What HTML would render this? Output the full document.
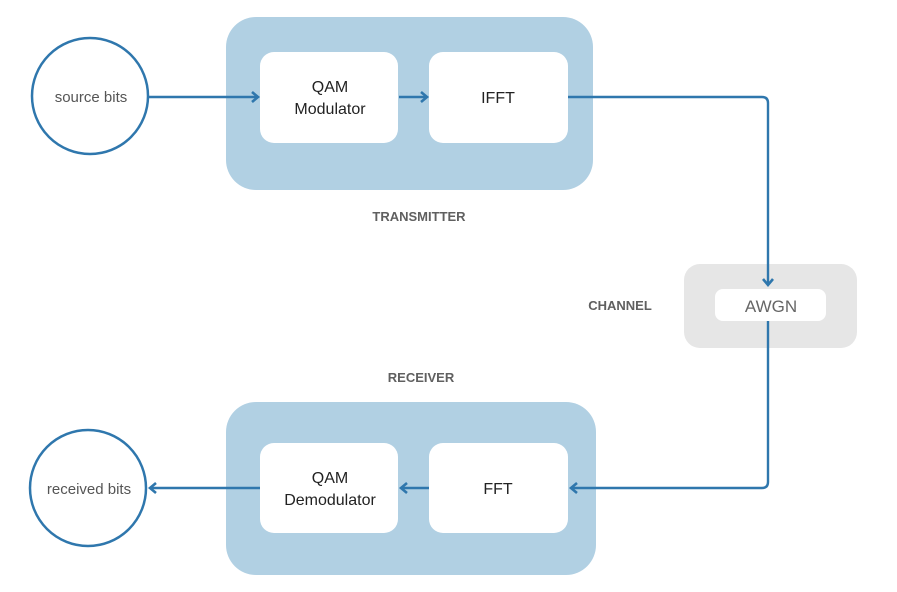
<!DOCTYPE html>
<html><head><meta charset="utf-8"><style>
html,body{margin:0;padding:0;background:#fff;}
svg text{font-family:"Liberation Sans",sans-serif;}
</style></head><body>
<svg width="897" height="587" viewBox="0 0 897 587" xmlns="http://www.w3.org/2000/svg">
<defs>
<marker id="a" markerWidth="12" markerHeight="14" refX="9" refY="7" orient="auto" markerUnits="userSpaceOnUse">
<path d="M3,2 L9,7 L3,12" fill="none" stroke="#2f77ad" stroke-width="2.6"/>
</marker>
</defs>
<rect x="226" y="17" width="367" height="173" rx="30" fill="#b1d0e3"/>
<rect x="260" y="52" width="138" height="91" rx="14" fill="#fff"/>
<rect x="429" y="52" width="139" height="91" rx="14" fill="#fff"/>
<rect x="226" y="402" width="370" height="173" rx="30" fill="#b1d0e3"/>
<rect x="260" y="443" width="138" height="90" rx="14" fill="#fff"/>
<rect x="429" y="443" width="139" height="90" rx="14" fill="#fff"/>
<rect x="684" y="264" width="173" height="84" rx="16" fill="#e6e6e6"/>
<rect x="715" y="289" width="111" height="32" rx="8" fill="#fff"/>
<ellipse cx="90" cy="96" rx="58" ry="58" fill="#fff" stroke="#2f77ad" stroke-width="2.5"/>
<ellipse cx="88" cy="488" rx="58" ry="58" fill="#fff" stroke="#2f77ad" stroke-width="2.5"/>
<g stroke="#2f77ad" stroke-width="2.4" fill="none">
<line x1="148" y1="97" x2="258" y2="97" marker-end="url(#a)"/>
<line x1="399" y1="97" x2="427" y2="97" marker-end="url(#a)"/>
<path d="M568,97 H762 Q768,97 768,103 V285" marker-end="url(#a)"/>
<path d="M768,321 V482 Q768,488 762,488 H571" marker-end="url(#a)"/>
<line x1="429" y1="488" x2="401" y2="488" marker-end="url(#a)"/>
<line x1="260" y1="488" x2="150" y2="488" marker-end="url(#a)"/>
</g>
<g fill="#555" font-size="15" text-anchor="middle">
<text x="91" y="102">source bits</text>
<text x="89" y="494">received bits</text>
</g>
<g fill="#222" font-size="16" text-anchor="middle">
<text x="330" y="92">QAM</text>
<text x="330" y="114">Modulator</text>
<text x="498" y="103">IFFT</text>
<text x="330" y="483">QAM</text>
<text x="330" y="505">Demodulator</text>
<text x="498" y="494">FFT</text>
</g>
<text x="771" y="312" fill="#666" font-size="17" text-anchor="middle">AWGN</text>
<g fill="#606060" font-size="13" font-weight="bold" text-anchor="middle">
<text x="419" y="221">TRANSMITTER</text>
<text x="620" y="310">CHANNEL</text>
<text x="421" y="382">RECEIVER</text>
</g>
</svg>
</body></html>
